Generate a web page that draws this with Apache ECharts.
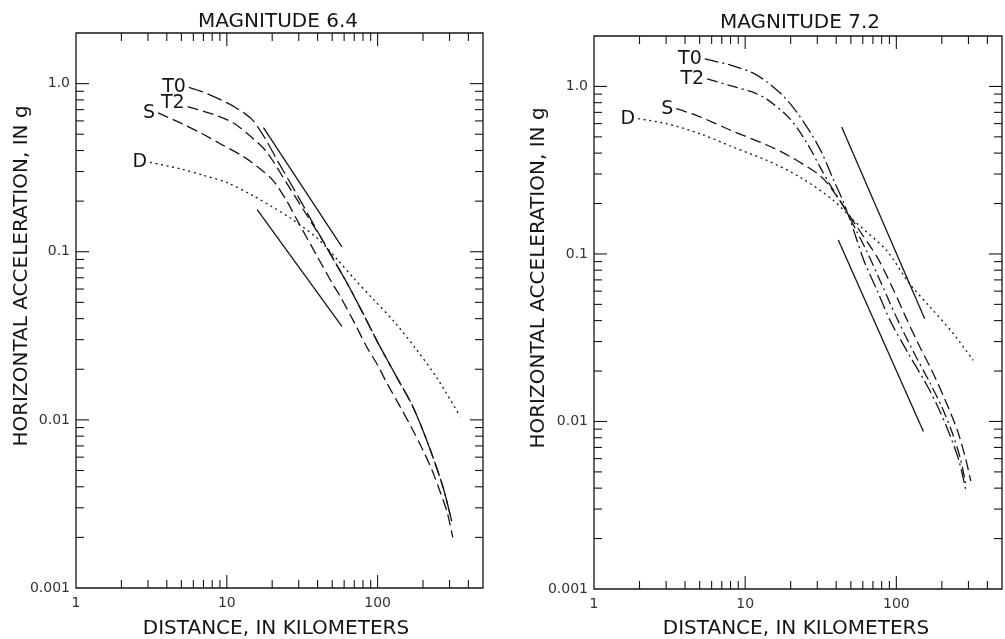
<!DOCTYPE html>
<html lang="en">
<head>
<meta charset="UTF-8">
<title>Horizontal acceleration vs distance</title>
<script src="https://cdn.jsdelivr.net/npm/echarts@6/dist/echarts.min.js"></script>
<style>
    html, body { margin: 0; padding: 0; background: #fff; }
    #chart { width: 1005px; height: 639px; }
</style>
</head>
<body>
<div id="chart"></div>
<script>
// [distance km, acceleration g]

// magnitude 6.4
var m64T0 = [[5.6,0.95],[7,0.89],[10,0.77],[13,0.67],[15,0.6],[18,0.47],[22,0.34],[30,0.21],[40,0.132],[51,0.09],[64,0.063],[80,0.043],[100,0.029],[137,0.0173],[172,0.0119],[220,0.0069],[271,0.004],[310,0.0025]];
var m64T2 = [[5.5,0.73],[8,0.66],[11,0.585],[15,0.47],[18.5,0.39],[25,0.255],[35,0.158],[45,0.11],[55,0.08],[64,0.063],[80,0.043],[100,0.029],[137,0.0173],[172,0.0119],[220,0.0069],[271,0.004],[310,0.0025]];
var m64S = [[3.5,0.67],[5,0.58],[6.7,0.51],[9,0.44],[12.9,0.368],[16,0.32],[20.3,0.265],[25,0.2],[30,0.148],[40,0.093],[50,0.065],[56,0.055],[70,0.038],[85,0.027],[100,0.0212],[115,0.0166],[141,0.012],[170,0.0088],[200,0.0066],[230,0.005],[258,0.0038],[290,0.0028],[315,0.002]];
var m64D = [[3.1,0.34],[5,0.31],[7,0.285],[10,0.258],[15,0.215],[20,0.185],[26,0.16],[40,0.12],[54,0.09],[70,0.069],[94,0.052],[130,0.038],[181,0.0262],[250,0.0175],[352,0.0105]];
var m64Upper = [[17.5,0.547],[58,0.107]];
var m64Lower = [[15.9,0.178],[58,0.036]];

// magnitude 7.2
var m72T0 = [[5.4,1.46],[8,1.34],[11.3,1.2],[14,1.06],[17.8,0.88],[22,0.7],[27.8,0.51],[32.2,0.4],[38.2,0.28],[44.6,0.205],[50,0.155],[55,0.12],[62,0.088],[75,0.06],[91,0.04],[120,0.0255],[159,0.0165],[190,0.012],[226,0.0083],[260,0.0058],[288,0.0039]];
var m72T2 = [[5.6,1.11],[8.3,1.0],[11,0.93],[13.9,0.84],[19.8,0.64],[25.6,0.46],[31.3,0.33],[36.3,0.26],[45,0.19],[55,0.135],[65,0.1],[80,0.066],[100,0.042],[130,0.026],[168,0.0168],[200,0.0122],[235,0.0085],[265,0.006],[290,0.0041]];
var m72S = [[3.5,0.736],[4.8,0.67],[8.3,0.54],[13.9,0.447],[19.8,0.382],[29.6,0.305],[33.7,0.275],[42,0.21],[55,0.145],[75,0.095],[95,0.062],[114,0.043],[140,0.029],[170,0.0205],[210,0.0135],[255,0.0087],[290,0.0058],[311,0.0044]];
var m72D = [[1.96,0.642],[3,0.6],[5,0.523],[8.3,0.435],[13.9,0.362],[23,0.288],[38.3,0.209],[52,0.159],[86,0.105],[122,0.0666],[167,0.0483],[238,0.0335],[322,0.0232]];
var m72Upper = [[43.5,0.572],[154,0.041]];
var m72Lower = [[41.3,0.121],[151,0.0087]];

// axes
var xRange = [1, 500];
var yRange = [0.001, 2];
var xMajorTicks = [10, 100];
var xMinorTicks = [2,3,4,5,6,7,8,9,20,30,40,50,60,70,80,90,200,300,400];
var yMajorTicks = [0.01, 0.1, 1];
var yMinorTicks = [0.002,0.003,0.004,0.005,0.006,0.007,0.008,0.009,0.02,0.03,0.04,0.05,0.06,0.07,0.08,0.09,0.2,0.3,0.4,0.5,0.6,0.7,0.8,0.9];
var xLabelValues = [1, 10, 100];
var xTickLabels = ['1', '10', '100'];
var yLabelValues = [0.001, 0.01, 0.1, 1];
var yTickLabels = ['0.001', '0.01', '0.1', '1.0'];

var FONT = 'DejaVu Sans';
var INK = '#151515';

function pickLabel(values, labels) {
    return function (v) {
        for (var i = 0; i < values.length; i++) {
            if (Math.abs(Math.log10(v / values[i])) < 1e-6) return labels[i];
        }
        return '';
    };
}

// tick items: [x, y, side, major]  side 0 bottom,1 top,2 left,3 right
function tickData() {
    var d = [];
    xMajorTicks.concat(xMinorTicks).forEach(function (v) {
        var major = xMajorTicks.indexOf(v) >= 0 ? 1 : 0;
        d.push([v, yRange[0], 0, major]);
        d.push([v, yRange[1], 1, major]);
    });
    yMajorTicks.concat(yMinorTicks).forEach(function (v) {
        var major = yMajorTicks.indexOf(v) >= 0 ? 1 : 0;
        d.push([xRange[0], v, 2, major]);
        d.push([xRange[1], v, 3, major]);
    });
    return d;
}

function renderTick(params, api) {
    var p = api.coord([api.value(0), api.value(1)]);
    var side = api.value(2);
    var len = api.value(3) ? 13 : 8;
    var dx = side === 2 ? len : (side === 3 ? -len : 0);
    var dy = side === 0 ? -len : (side === 1 ? len : 0);
    return {
        type: 'line',
        shape: { x1: p[0], y1: p[1], x2: p[0] + dx, y2: p[1] + dy },
        style: { stroke: INK, lineWidth: 1.1 }
    };
}

function startLabel(points, text, offset) {
    return points.map(function (p, i) {
        if (i > 0) return p;
        return {
            value: p,
            label: {
                show: true, formatter: text, position: 'left', distance: 3,
                offset: offset || [0, 0],
                fontFamily: FONT, fontSize: 19, color: INK
            }
        };
    });
}

function curve(idx, name, points, dash, labelOffset) {
    return {
        name: name, type: 'line', xAxisIndex: idx, yAxisIndex: idx,
        data: name ? startLabel(points, name, labelOffset) : points,
        showSymbol: true, symbol: 'circle', symbolSize: 0,
        smooth: 0.3, silent: true, animation: false,
        lineStyle: { color: INK, width: 1.3, type: dash || 'solid' }
    };
}

function xAxisFor(idx) {
    return {
        type: 'log', logBase: 10, gridIndex: idx, min: xRange[0], max: xRange[1],
        axisLine: { show: false }, axisTick: { show: false }, splitLine: { show: false },
        axisLabel: { formatter: pickLabel(xLabelValues, xTickLabels), margin: 8,
            fontFamily: FONT, fontSize: 14, color: '#333' }
    };
}

function yAxisFor(idx) {
    return {
        type: 'log', logBase: 10, gridIndex: idx, min: yRange[0], max: yRange[1],
        axisLine: { show: false }, axisTick: { show: false }, splitLine: { show: false },
        axisLabel: { formatter: pickLabel(yLabelValues, yTickLabels), margin: 6,
            fontFamily: FONT, fontSize: 14, color: '#333' }
    };
}

function textEl(text, x, y, rotate) {
    return {
        type: 'text', x: x, y: y, rotation: rotate ? Math.PI / 2 : 0,
        style: { text: text, align: 'center', verticalAlign: 'middle',
            fontFamily: FONT, fontSize: 20, fill: INK }
    };
}

var chart = echarts.init(document.getElementById('chart'));
var ticks = tickData();

var option = {
    animation: false,
    backgroundColor: '#fff',
    grid: [
        { left: 76, top: 33, width: 407, height: 555, show: true, borderColor: INK, borderWidth: 1.3 },
        { left: 594, top: 36, width: 408, height: 553, show: true, borderColor: INK, borderWidth: 1.3 }
    ],
    xAxis: [xAxisFor(0), xAxisFor(1)],
    yAxis: [yAxisFor(0), yAxisFor(1)],
    graphic: [
        textEl('MAGNITUDE 6.4', 278, 22),
        textEl('MAGNITUDE 7.2', 800, 23),
        textEl('DISTANCE, IN KILOMETERS', 276, 629),
        textEl('DISTANCE, IN KILOMETERS', 796, 629),
        textEl('HORIZONTAL ACCELERATION, IN g', 22, 276, true),
        textEl('HORIZONTAL ACCELERATION, IN g', 539, 278, true)
    ],
    series: [
        { type: 'custom', xAxisIndex: 0, yAxisIndex: 0, data: ticks, renderItem: renderTick, silent: true, clip: false },
        { type: 'custom', xAxisIndex: 1, yAxisIndex: 1, data: ticks, renderItem: renderTick, silent: true, clip: false },

        curve(0, 'T0', m64T0, [15, 5]),
        curve(0, 'T2', m64T2, [11, 5], [0, -4]),
        curve(0, 'S', m64S, [11, 5]),
        curve(0, 'D', m64D, [2, 3.6]),
        curve(0, '', m64Upper),
        curve(0, '', m64Lower),

        curve(1, 'T0', m72T0, [14, 4, 2, 4]),
        curve(1, 'T2', m72T2, [11, 4, 2, 4]),
        curve(1, 'S', m72S, [11, 5]),
        curve(1, 'D', m72D, [2, 3.6]),
        curve(1, '', m72Upper),
        curve(1, '', m72Lower)
    ]
};
chart.setOption(option);
</script>
</body>
</html>
